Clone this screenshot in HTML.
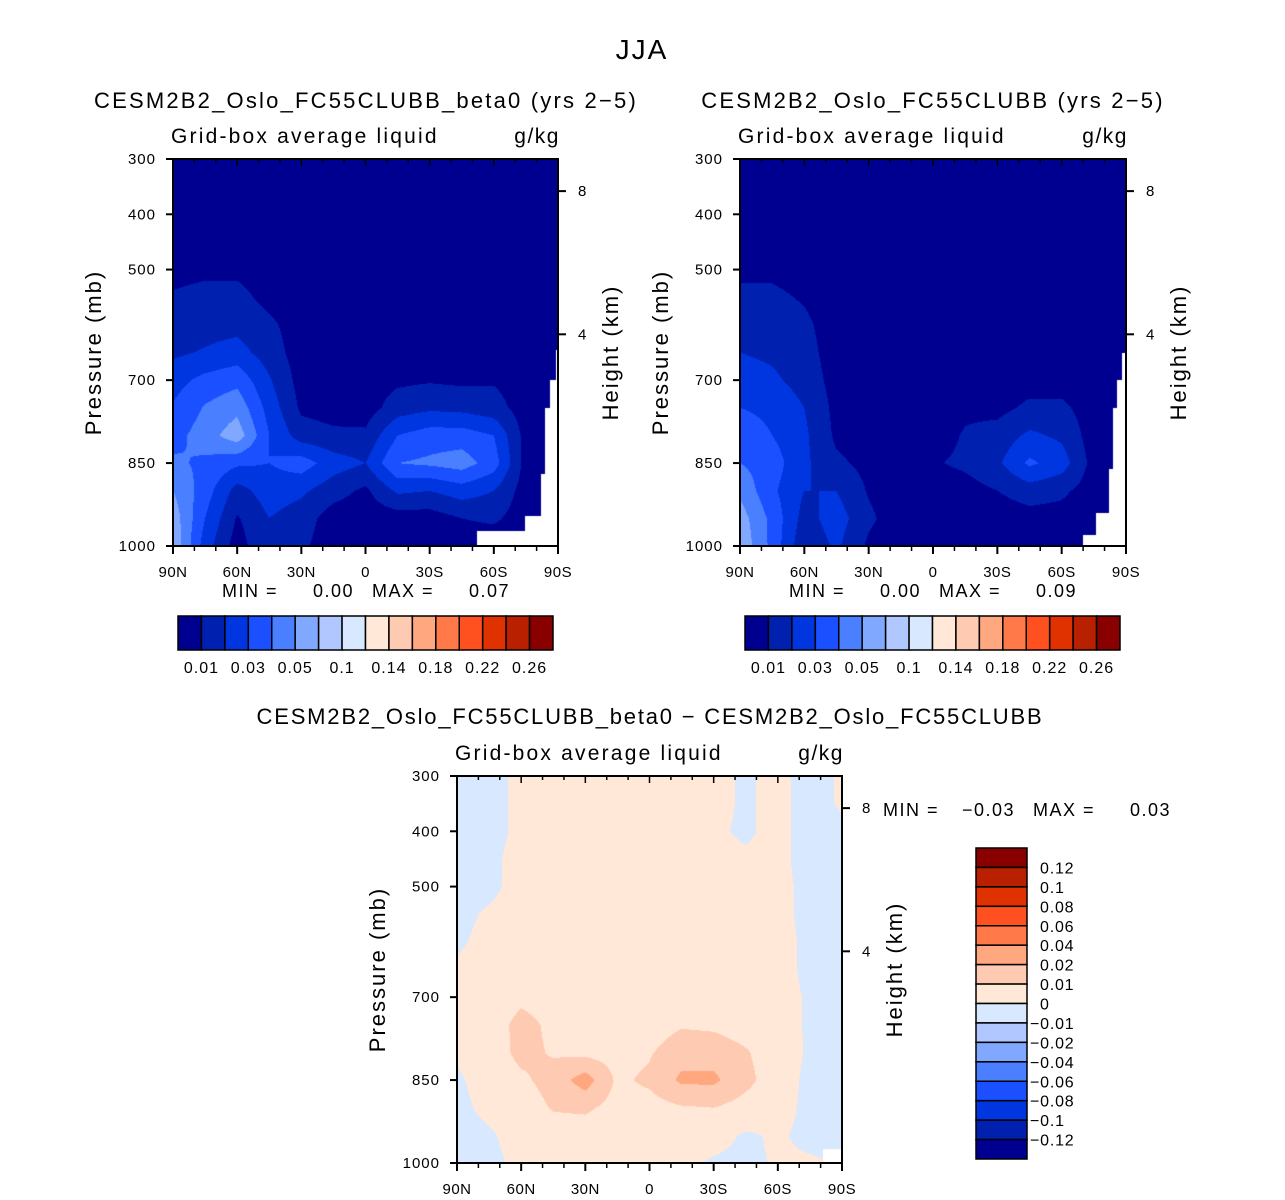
<!DOCTYPE html>
<html><head><meta charset="utf-8"><style>
html,body{margin:0;padding:0;background:#fff;}
#wrap{position:relative;width:1285px;height:1200px;overflow:hidden;font-family:"Liberation Sans",sans-serif;}
canvas{position:absolute;}
svg{position:absolute;left:0;top:0;}
</style></head><body>
<div id="wrap">
<canvas id="c1" width="385" height="387" style="left:173px;top:159px"></canvas>
<canvas id="c2" width="386" height="387" style="left:740px;top:159px"></canvas>
<canvas id="c3" width="385" height="387" style="left:457px;top:776px"></canvas>
<svg id="ov" width="1285" height="1200"></svg>
</div>
<script>
const lats=[90,75,60,45,30,15,0,-15,-30,-45,-60,-75,-90];
const pres=[300,350,400,450,500,550,600,650,700,750,800,850,900,950,1000];
const fieldA=[
[.004,.004,.004,.004,.004,.004,.004,.004,.004,.004,.004,.004,.004],
[.004,.004,.004,.004,.004,.004,.004,.004,.004,.004,.004,.004,.004],
[.004,.004,.004,.004,.004,.004,.004,.004,.004,.004,.004,.004,.004],
[.005,.005,.005,.004,.004,.004,.005,.004,.004,.004,.004,.004,.004],
[.007,.008,.008,.005,.004,.004,.006,.004,.004,.004,.004,.004,.004],
[.011,.013,.013,.007,.004,.004,.006,.004,.004,.004,.004,.004,.004],
[.014,.016,.017,.012,.005,.004,.005,.004,.004,.004,.004,.004,.004],
[.018,.021,.024,.015,.005,.004,.004,.005,.005,.005,.005,.004,.004],
[.026,.033,.037,.021,.006,.005,.005,.008,.009,.008,.009,.005,.004],
[.031,.041,.047,.026,.008,.006,.005,.015,.018,.017,.014,.005,.004],
[.036,.045,.056,.03,.015,.012,.012,.03,.035,.035,.03,.006,.004],
[.042,.038,.032,.03,.035,.025,.02,.04,.042,.045,.035,.006,.004],
[.05,.035,.016,.025,.022,.014,.008,.022,.02,.025,.02,.005,.004],
[.056,.03,.009,.02,.015,.005,.004,.005,.005,.01,.012,.004,.004],
[.058,.025,.005,.02,.012,.004,.003,.003,.003,.003,.003,.003,.003]];
const fieldB=[
[.004,.004,.004,.004,.004,.004,.004,.004,.004,.004,.004,.004,.004],
[.004,.004,.004,.004,.004,.004,.004,.004,.004,.004,.004,.004,.004],
[.004,.004,.004,.004,.004,.004,.004,.004,.004,.004,.004,.004,.004],
[.005,.005,.004,.004,.004,.004,.004,.004,.004,.004,.004,.004,.004],
[.008,.008,.006,.004,.004,.004,.004,.004,.004,.004,.004,.004,.004],
[.012,.012,.009,.004,.004,.004,.004,.004,.004,.004,.004,.004,.004],
[.015,.015,.012,.005,.004,.004,.004,.004,.004,.004,.004,.004,.004],
[.02,.018,.014,.005,.004,.004,.004,.004,.004,.004,.004,.004,.004],
[.025,.022,.016,.006,.004,.004,.004,.005,.005,.006,.006,.004,.004],
[.03,.028,.02,.007,.004,.004,.004,.008,.007,.012,.012,.005,.004],
[.035,.03,.022,.008,.005,.006,.005,.011,.014,.022,.018,.005,.004],
[.04,.035,.022,.012,.007,.006,.009,.012,.018,.032,.025,.006,.004],
[.048,.032,.02,.02,.009,.004,.004,.006,.01,.015,.012,.005,.004],
[.055,.037,.016,.025,.012,.004,.004,.004,.004,.006,.006,.004,.004],
[.058,.037,.012,.022,.008,.003,.003,.003,.003,.003,.003,.003,.003]];
const fieldD=[
[-.004,-.003,.002,.004,.004,.004,.004,.003,.002,-.001,.002,-.003,.001],
[-.004,-.003,.002,.004,.004,.004,.004,.003,.002,-.001,.002,-.003,.001],
[-.004,-.003,.002,.004,.004,.004,.004,.003,.001,-.001,.002,-.003,-.002],
[-.004,-.002,.003,.004,.004,.004,.004,.003,.002,.001,.002,-.003,-.002],
[-.003,-.002,.003,.004,.004,.004,.004,.003,.002,.001,.002,-.002,-.002],
[-.002,.001,.004,.004,.004,.004,.004,.003,.002,.001,.002,-.002,-.002],
[-.001,.002,.004,.004,.004,.004,.004,.003,.002,.001,.003,-.002,-.002],
[.001,.003,.005,.005,.004,.004,.004,.003,.003,.002,.003,-.002,-.002],
[.002,.004,.008,.006,.004,.004,.004,.004,.004,.003,.003,-.001,-.002],
[.002,.005,.013,.008,.005,.005,.005,.009,.008,.005,.003,-.001,-.002],
[.001,.004,.013,.009,.007,.006,.009,.016,.016,.011,.004,-.001,-.002],
[-.001,.003,.008,.014,.025,.008,.012,.022,.022,.013,.004,-.002,-.002],
[-.002,.002,.004,.011,.012,.006,.006,.009,.01,.006,.003,-.002,-.002],
[-.003,-.001,.003,.004,.004,.003,.003,.004,.003,-.001,.001,-.002,-.001],
[-.004,-.002,.002,.002,.001,.002,.002,.002,-.001,-.002,.001,.001,-.001]];
const maskA=[[-89,645],[-86.3,700],[-83.9,750],[-82,870],[-74.6,946],[-52,973]];
const maskB=[[-88,650],[-86,700],[-84,750],[-82,860],[-76,940],[-70,980]];
const maskD=[[-81,975]];
const colors=['#000090','#0020b0','#0036e0','#1a50ff','#4a80ff','#80a8ff','#b0c8ff','#d8e8ff','#ffe8d8','#ffcab2','#ffa880','#ff7a48','#ff5020','#e03200','#b82000','#880000'];
const levelsAbs=[0.01,0.02,0.03,0.04,0.05,0.07,0.1,0.12,0.14,0.16,0.18,0.2,0.22,0.24,0.26];
const levelsDiff=[-0.12,-0.1,-0.08,-0.06,-0.04,-0.02,-0.01,0,0.01,0.02,0.04,0.06,0.08,0.1,0.12];
const absLabels=['0.01','','0.03','','0.05','','0.1','','0.14','','0.18','','0.22','','0.26'];
const diffLabels=['-0.12','-0.1','-0.08','-0.06','-0.04','-0.02','-0.01','0','0.01','0.02','0.04','0.06','0.08','0.1','0.12'];
const pTicks=[300,400,500,700,850,1000];
const latTicks=[90,60,30,0,-30,-60,-90];
const latTickLabels=['90N','60N','30N','0','30S','60S','90S'];
const hTicks=[[8,0.083],[4,0.453]];

function hexRgb(h){return [parseInt(h.substr(1,2),16),parseInt(h.substr(3,2),16),parseInt(h.substr(5,2),16)];}
const rgb=colors.map(hexRgb);
function drawField(id,field,mask,levels){
  const c=document.getElementById(id),ctx=c.getContext('2d'),W=c.width,H=c.height;
  const img=ctx.createImageData(W,H);
  for(let py=0;py<H;py++){
    const p=300+(py+0.5)/H*700;
    const fj=(p-300)/50; const j0=Math.min(13,Math.floor(fj)); const tj=fj-j0;
    for(let px=0;px<W;px++){
      const lat=90-(px+0.5)/W*180;
      const fi=(90-lat)/15; const i0=Math.min(11,Math.floor(fi)); const ti=fi-i0;
      let k=(py*W+px)*4;
      let miss=false;
      for(const m of mask){ if(lat<m[0]&&p>m[1]) miss=true; }
      if(miss){img.data[k]=255;img.data[k+1]=255;img.data[k+2]=255;img.data[k+3]=255;continue;}
      const v=(field[j0][i0]*(1-ti)+field[j0][i0+1]*ti)*(1-tj)+(field[j0+1][i0]*(1-ti)+field[j0+1][i0+1]*ti)*tj;
      let idx=0; for(const L of levels){ if(v>=L) idx++; }
      const col=rgb[idx];
      img.data[k]=col[0];img.data[k+1]=col[1];img.data[k+2]=col[2];img.data[k+3]=255;
    }
  }
  ctx.putImageData(img,0,0);
}
drawField('c1',fieldA,maskA,levelsAbs);
drawField('c2',fieldB,maskB,levelsAbs);
drawField('c3',fieldD,maskD,levelsDiff);

const NS='http://www.w3.org/2000/svg';
const svg=document.getElementById('ov');
function el(tag,attrs,name,txt){
  const e=document.createElementNS(NS,tag);
  for(const k in attrs) e.setAttribute(k,attrs[k]);
  
  
  if(txt!==undefined) e.textContent=txt;
  svg.appendChild(e); return e;
}
function txt(x,y,s,size,anchor,name,extra){
  const a={x:x,y:y,'font-size':size,'text-anchor':anchor||'start','font-family':'Liberation Sans, sans-serif',fill:'#000'};
  if(extra) for(const k in extra) a[k]=extra[k];
  return el('text',a,name,s);
}
function panel(x0,y0,W,H,title,titleX,pre){
  const xs=lat=>x0+(90-lat)/180*W, ys=p=>y0+(p-300)/700*H;
  el('rect',{x:x0,y:y0,width:W,height:H,fill:'none',stroke:'#000','stroke-width':2},pre+'-frame');
  for(let l=90;l>=-90;l-=10){
    const major=l%30===0;
    el('line',{x1:xs(l),x2:xs(l),y1:y0+H,y2:y0+H+(major?8:5),stroke:'#000','stroke-width':major?2:1.5},pre+'-x-tick');
    el('line',{x1:xs(l),x2:xs(l),y1:y0,y2:y0+(major?7:4),stroke:'#000','stroke-width':1.5},pre+'-x-tick-top');
  }
  latTicks.forEach((l,i)=>txt(xs(l),y0+H+31,latTickLabels[i],15,'middle',pre+'-x-label',{'letter-spacing':'0.5'}));
  pTicks.forEach(p=>{
    el('line',{x1:x0-7,x2:x0,y1:ys(p),y2:ys(p),stroke:'#000','stroke-width':2},pre+'-y-tick');
    txt(x0-17,ys(p)+5,String(p),15,'end',pre+'-y-label',{'letter-spacing':'1'});
  });
  hTicks.forEach(h=>{
    const y=y0+h[1]*H;
    el('line',{x1:x0+W,x2:x0+W+8,y1:y,y2:y,stroke:'#000','stroke-width':2},pre+'-height-tick');
    txt(x0+W+20,y+5,String(h[0]),15,'start',pre+'-height-label');
  });
  txt(x0-72,y0+H/2,'Pressure (mb)',22,'middle',pre+'-y-axis-title',{transform:`rotate(-90 ${x0-72} ${y0+H/2})`,'letter-spacing':'2'});
  txt(x0+W+60,y0+H/2,'Height (km)',22,'middle',pre+'-right-axis-title',{transform:`rotate(-90 ${x0+W+60} ${y0+H/2})`,'letter-spacing':'2'});
  txt(x0-2,y0-16,'Grid-box average liquid',21,'start',pre+'-variable-label',{'letter-spacing':'2.2'});
  txt(x0+W+2,y0-16,'g/kg',21,'end',pre+'-units-label',{'letter-spacing':'1.5'});
  if(title) txt(titleX,y0-51,title,22,'middle',pre+'-title',{'letter-spacing':'2.2'});
}
txt(642,59,'JJA',28,'middle','figure-title',{'letter-spacing':'2'});
panel(173,159,385,387,'CESM2B2_Oslo_FC55CLUBB_beta0 (yrs 2\u22125)',366,'left');
panel(740,159,386,387,'CESM2B2_Oslo_FC55CLUBB (yrs 2\u22125)',933,'right');
panel(457,776,385,387,'',0,'diff');
txt(650,724,'CESM2B2_Oslo_FC55CLUBB_beta0 \u2212 CESM2B2_Oslo_FC55CLUBB',22,'middle','diff-title',{'letter-spacing':'1.8'});
function minmax(x,y,mn,mx,pre){
  txt(x,y,'MIN =',18,'start',pre+'-min-label',{'letter-spacing':'1.5'});
  txt(x+132,y,mn,18,'end',pre+'-min-value',{'letter-spacing':'1.5'});
  txt(x+150,y,'MAX =',18,'start',pre+'-max-label',{'letter-spacing':'1.5'});
  txt(x+288,y,mx,18,'end',pre+'-max-value',{'letter-spacing':'1.5'});
}
minmax(222,597,'0.00','0.07','left');
minmax(789,597,'0.00','0.09','right');
minmax(883,816,'\u22120.03','0.03','diff');
function hbar(x0,y0,W,H,pre){
  const bw=W/colors.length;
  colors.forEach((c,i)=>el('rect',{x:x0+i*bw,y:y0,width:bw,height:H,fill:c,stroke:'#000','stroke-width':1.5},pre+'-colorbar-box'));
  absLabels.forEach((s,i)=>{ if(s) txt(x0+(i+1)*bw,y0+H+23,s,16,'middle',pre+'-colorbar-label',{'letter-spacing':'1'}); });
}
hbar(178,616,375,34,'left');
hbar(745,616,375,34,'right');
(function(){
  const x0=976,y0=848,W=51,H=311,bh=H/colors.length;
  for(let i=0;i<colors.length;i++){
    el('rect',{x:x0,y:y0+i*bh,width:W,height:bh,fill:colors[colors.length-1-i],stroke:'#000','stroke-width':1.5},'diff-colorbar-box');
  }
  for(let i=0;i<diffLabels.length;i++){
    const s=diffLabels[diffLabels.length-1-i].replace('-','\u2212');
    txt(s[0]==='\u2212'?1030:1040,y0+(i+1)*bh+6,s,16,'start','diff-colorbar-label',{'letter-spacing':'0.8'});
  }
})();
</script>
</body></html>
